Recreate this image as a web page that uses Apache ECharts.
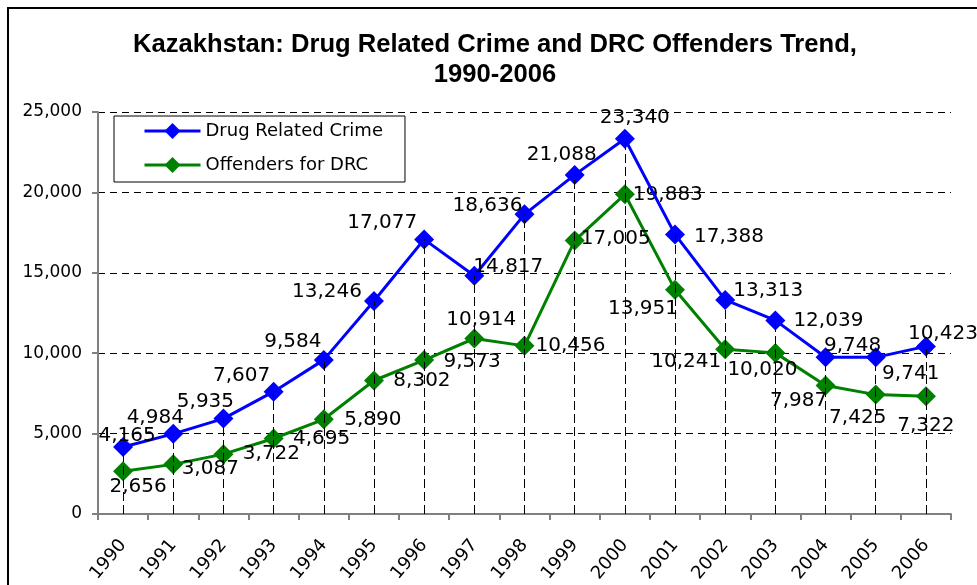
<!DOCTYPE html>
<html lang="en">
    <head>
        <meta charset="UTF-8">
        <title>Kazakhstan Drug Related Crime</title>
        <style>
            *{
                margin: 0;
                padding: 0;
            }
            body{
                background: #fff;
            }
            #chart{
                width: 977px;
                height: 585px;
            }
        </style>
        <script src="https://cdn.jsdelivr.net/npm/echarts@6/dist/echarts.min.js"></script>
    </head>
    <body>
        <div id="chart"></div>
        <script>
            // data
            var years = ['1990','1991','1992','1993','1994','1995','1996','1997','1998',
                         '1999','2000','2001','2002','2003','2004','2005','2006'];
            var drugCrime = [4165, 4984, 5935, 7607, 9584, 13246, 17077, 14817, 18636,
                             21088, 23340, 17388, 13313, 12039, 9748, 9741, 10423];
            var offenders = [2656, 3087, 3722, 4695, 5890, 8302, 9573, 10914, 10456,
                             17005, 19883, 13951, 10241, 10020, 7987, 7425, 7322];
            var yTicks = [0, 5000, 10000, 15000, 20000, 25000];

            // label placement (pixels from the point)
            var blueLabelOffset = [[4,-11],[-18,-16],[-18,-17],[-32,-16],[-31,-18],[-47,-9],[-42,-17],
                                   [34,-9],[-37,-9],[-13,-20],[10,-21],[54,2],[43,-9],[53,0],
                                   [27,-11],[35,16],[17,-13]];
            var greenLabelOffset = [[15,16],[37,4],[48,0],[48,0],[49,1],[48,0],[48,2],
                                    [7,-19],[46,0],[41,-2],[43,1],[-32,19],[-39,12],[-13,17],
                                    [-27,15],[-18,23],[0,30]];

            function fmt(v){
                return Number(v).toLocaleString('en-US');
            }

            function withLabels(values, offsets){
                return values.map(function(v, i){
                    return { value: v, label: { offset: offsets[i] } };
                });
            }

            // drop lines from the higher point down to the axis
            var dropLines = years.map(function(y, i){
                var top = Math.max(drugCrime[i], offenders[i]);
                return [{ coord: [i, 0] }, { coord: [i, top] }];
            });

            var labelStyle = {
                show: true,
                position: 'inside',
                align: 'center',
                verticalAlign: 'middle',
                color: '#000',
                fontFamily: 'DejaVu Sans',
                fontSize: 20,
                formatter: function(p){ return fmt(p.value); }
            };

            var chart = echarts.init(document.getElementById('chart'));
            var option = {
                animation: false,
                backgroundColor: '#fff',
                graphic: [{
                    type: 'rect',
                    shape: { x: 8, y: 8, width: 1000, height: 1000 },
                    style: { fill: 'none', stroke: '#000', lineWidth: 2 },
                    z: 100
                }],
                title: {
                    text: 'Kazakhstan: Drug Related Crime and DRC Offenders Trend,\n1990-2006',
                    left: 495,
                    textAlign: 'center',
                    top: 30,
                    padding: 0,
                    textStyle: {
                        fontFamily: 'Liberation Sans',
                        fontWeight: 'bold',
                        fontSize: 25.6,
                        lineHeight: 30,
                        color: '#000'
                    }
                },
                legend: {
                    orient: 'vertical',
                    left: 114,
                    top: 116,
                    padding: [5, 22, 7, 29],
                    itemGap: 14,
                    itemWidth: 56,
                    itemHeight: 20,
                    borderColor: '#000',
                    borderWidth: 1,
                    borderRadius: 0,
                    backgroundColor: '#fff',
                    lineStyle: { width: 3 },
                    textStyle: {
                        fontFamily: 'DejaVu Sans',
                        fontSize: 18,
                        lineHeight: 20,
                        color: '#000'
                    },
                    data: ['Drug Related Crime', 'Offenders for DRC']
                },
                grid: {
                    left: 98,
                    right: 26,
                    top: 112,
                    bottom: 71,
                    outerBoundsMode: 'none'
                },
                xAxis: {
                    type: 'category',
                    data: years,
                    boundaryGap: true,
                    axisLine: { lineStyle: { color: '#808080', width: 2 } },
                    axisTick: { show: true, length: 6, lineStyle: { color: '#808080', width: 2 } },
                    axisLabel: {
                        rotate: 50,
                        margin: 28,
                        interval: 0,
                        color: '#000',
                        fontFamily: 'DejaVu Sans',
                        fontSize: 18
                    },
                    splitLine: { show: false }
                },
                yAxis: {
                    type: 'value',
                    min: yTicks[0],
                    max: yTicks[yTicks.length - 1],
                    interval: 5000,
                    axisLine: { show: true, lineStyle: { color: '#808080', width: 2 } },
                    axisTick: { show: true, length: 6, lineStyle: { color: '#808080', width: 2 } },
                    axisLabel: {
                        margin: 16,
                        color: '#000',
                        fontFamily: 'DejaVu Sans',
                        fontSize: 17,
                        formatter: function(v){ return fmt(v); }
                    },
                    splitLine: {
                        show: true,
                        lineStyle: { color: '#000', type: [7, 5], width: 1 }
                    }
                },
                series: [{
                    name: 'drops',
                    type: 'line',
                    data: drugCrime,
                    showSymbol: false,
                    silent: true,
                    z: 1,
                    lineStyle: { width: 0, opacity: 0 },
                    markLine: {
                        silent: true,
                        symbol: ['none', 'none'],
                        label: { show: false },
                        lineStyle: { color: '#000', type: [9, 4], width: 1 },
                        data: dropLines
                    }
                },{
                    name: 'Offenders for DRC',
                    type: 'line',
                    z: 3,
                    data: withLabels(offenders, greenLabelOffset),
                    symbol: 'diamond',
                    symbolSize: 20,
                    color: '#008000',
                    itemStyle: { color: '#008000' },
                    lineStyle: { color: '#008000', width: 3 },
                    label: labelStyle
                },{
                    name: 'Drug Related Crime',
                    type: 'line',
                    z: 4,
                    data: withLabels(drugCrime, blueLabelOffset),
                    symbol: 'diamond',
                    symbolSize: 20,
                    color: '#0000ff',
                    itemStyle: { color: '#0000ff' },
                    lineStyle: { color: '#0000ff', width: 3 },
                    label: labelStyle
                }]
            };
            chart.setOption(option);
        </script>
    </body>
</html>
